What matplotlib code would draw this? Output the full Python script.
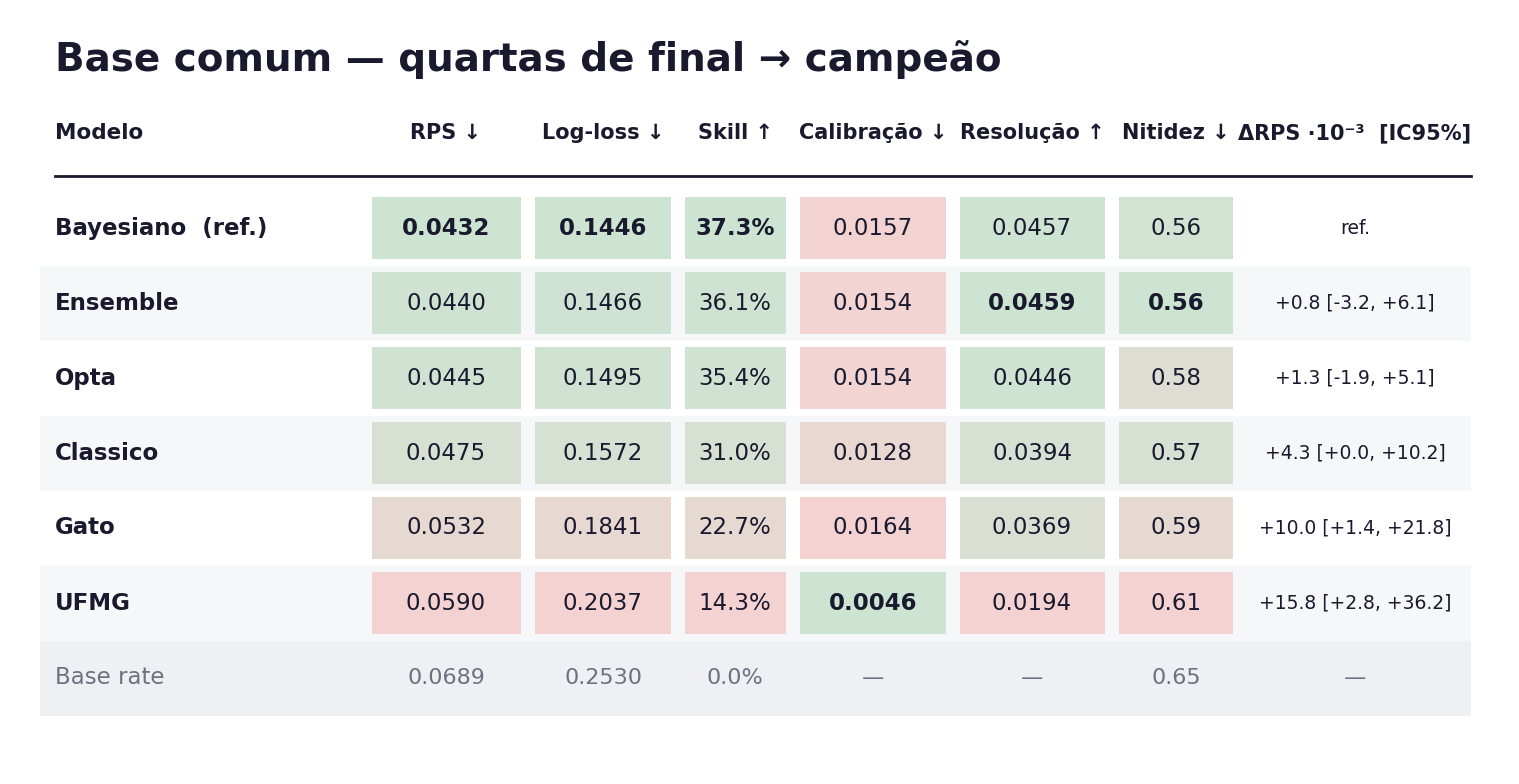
import numpy as np
import matplotlib.pyplot as plt
from matplotlib.patches import Rectangle
from matplotlib.colors import to_rgb

models = ['Bayesiano  (ref.)', 'Ensemble', 'Opta', 'Classico', 'Gato', 'UFMG']
headers = ['RPS ↓', 'Log-loss ↓', 'Skill ↑', 'Calibração ↓', 'Resolução ↑', 'Nitidez ↓']
higher_better = [False, False, True, False, True, False]
rps = [0.0432, 0.0440, 0.0445, 0.0475, 0.0532, 0.0590]
logloss = [0.1446, 0.1466, 0.1495, 0.1572, 0.1841, 0.2037]
skill = [37.3, 36.1, 35.4, 31.0, 22.7, 14.3]
calib = [0.0157, 0.0154, 0.0154, 0.0128, 0.0164, 0.0046]
resol = [0.0457, 0.0459, 0.0446, 0.0394, 0.0369, 0.0194]
nitidez = [0.563, 0.557, 0.578, 0.572, 0.59, 0.61]
fmts = ['{:.4f}', '{:.4f}', '{:.1f}%', '{:.4f}', '{:.4f}', '{:.2f}']
delta = ['ref.', '+0.8 [-3.2, +6.1]', '+1.3 [-1.9, +5.1]', '+4.3 [+0.0, +10.2]',
         '+10.0 [+1.4, +21.8]', '+15.8 [+2.8, +36.2]']
base_rate = ['0.0689', '0.2530', '0.0%', '—', '—', '0.65', '—']
columns = [rps, logloss, skill, calib, resol, nitidez]

col_x = [446, 603, 735, 873, 1032, 1176]
col_w = [149, 136, 101, 146, 145, 114]
delta_x = 1355
row_y0, row_h, cell_h = 228, 75, 62

dark = '#1a1a2e'
grey = '#6b7280'
green = np.array(to_rgb('#cde4d3'))
red = np.array(to_rgb('#f5d2d2'))

fig = plt.figure(figsize=(15.19, 7.84), dpi=100)
ax = fig.add_axes([0, 0, 1, 1])
ax.set_xlim(0, 1519)
ax.set_ylim(784, 0)
ax.axis('off')

ax.text(55, 60, 'Base comum — quartas de final → campeão', fontsize=28,
        fontweight='bold', color=dark, va='center')
ax.text(55, 133, 'Modelo', fontsize=15.5, fontweight='bold', color=dark, va='center')
for h, x in zip(headers, col_x):
    ax.text(x, 133, h, fontsize=15, fontweight='bold', color=dark, va='center', ha='center')
ax.text(1471, 133, 'ΔRPS ·10⁻³  [IC95%]', fontsize=15, fontweight='bold', color=dark,
        va='center', ha='right')
ax.plot([55, 1471], [176, 176], color=dark, lw=2)

for i, m in enumerate(models):
    y = row_y0 + i * row_h
    if i % 2 == 1:
        ax.add_patch(Rectangle((40, y - row_h / 2), 1431, row_h, color='#f6f7f9', lw=0, zorder=0))
    ax.text(55, y, m, fontsize=16.5, fontweight='bold', color=dark, va='center')
    ax.text(delta_x, y, delta[i], fontsize=13.5, color=dark, va='center', ha='center')

for j, vals in enumerate(columns):
    v = np.array(vals, dtype=float)
    t = (v - v.min()) / (v.max() - v.min())
    if higher_better[j]:
        t = 1 - t
    best = int(np.argmin(t))
    for i, val in enumerate(vals):
        y = row_y0 + i * row_h
        c = green * (1 - t[i]) + red * t[i]
        ax.add_patch(Rectangle((col_x[j] - col_w[j] / 2, y - cell_h / 2), col_w[j], cell_h,
                               color=c, lw=0, zorder=1))
        ax.text(col_x[j], y, fmts[j].format(val), fontsize=16.5, color=dark, va='center',
                ha='center', fontweight='bold' if i == best else 'normal', zorder=2)

y = row_y0 + len(models) * row_h
ax.add_patch(Rectangle((40, y - row_h / 2), 1431, row_h, color='#eef0f3', lw=0, zorder=0))
ax.text(55, y, 'Base rate', fontsize=16.5, color=grey, va='center')
for x, s in zip(col_x + [delta_x], base_rate):
    ax.text(x, y, s, fontsize=16, color=grey, va='center', ha='center')

fig.savefig('out.png', dpi=100)
